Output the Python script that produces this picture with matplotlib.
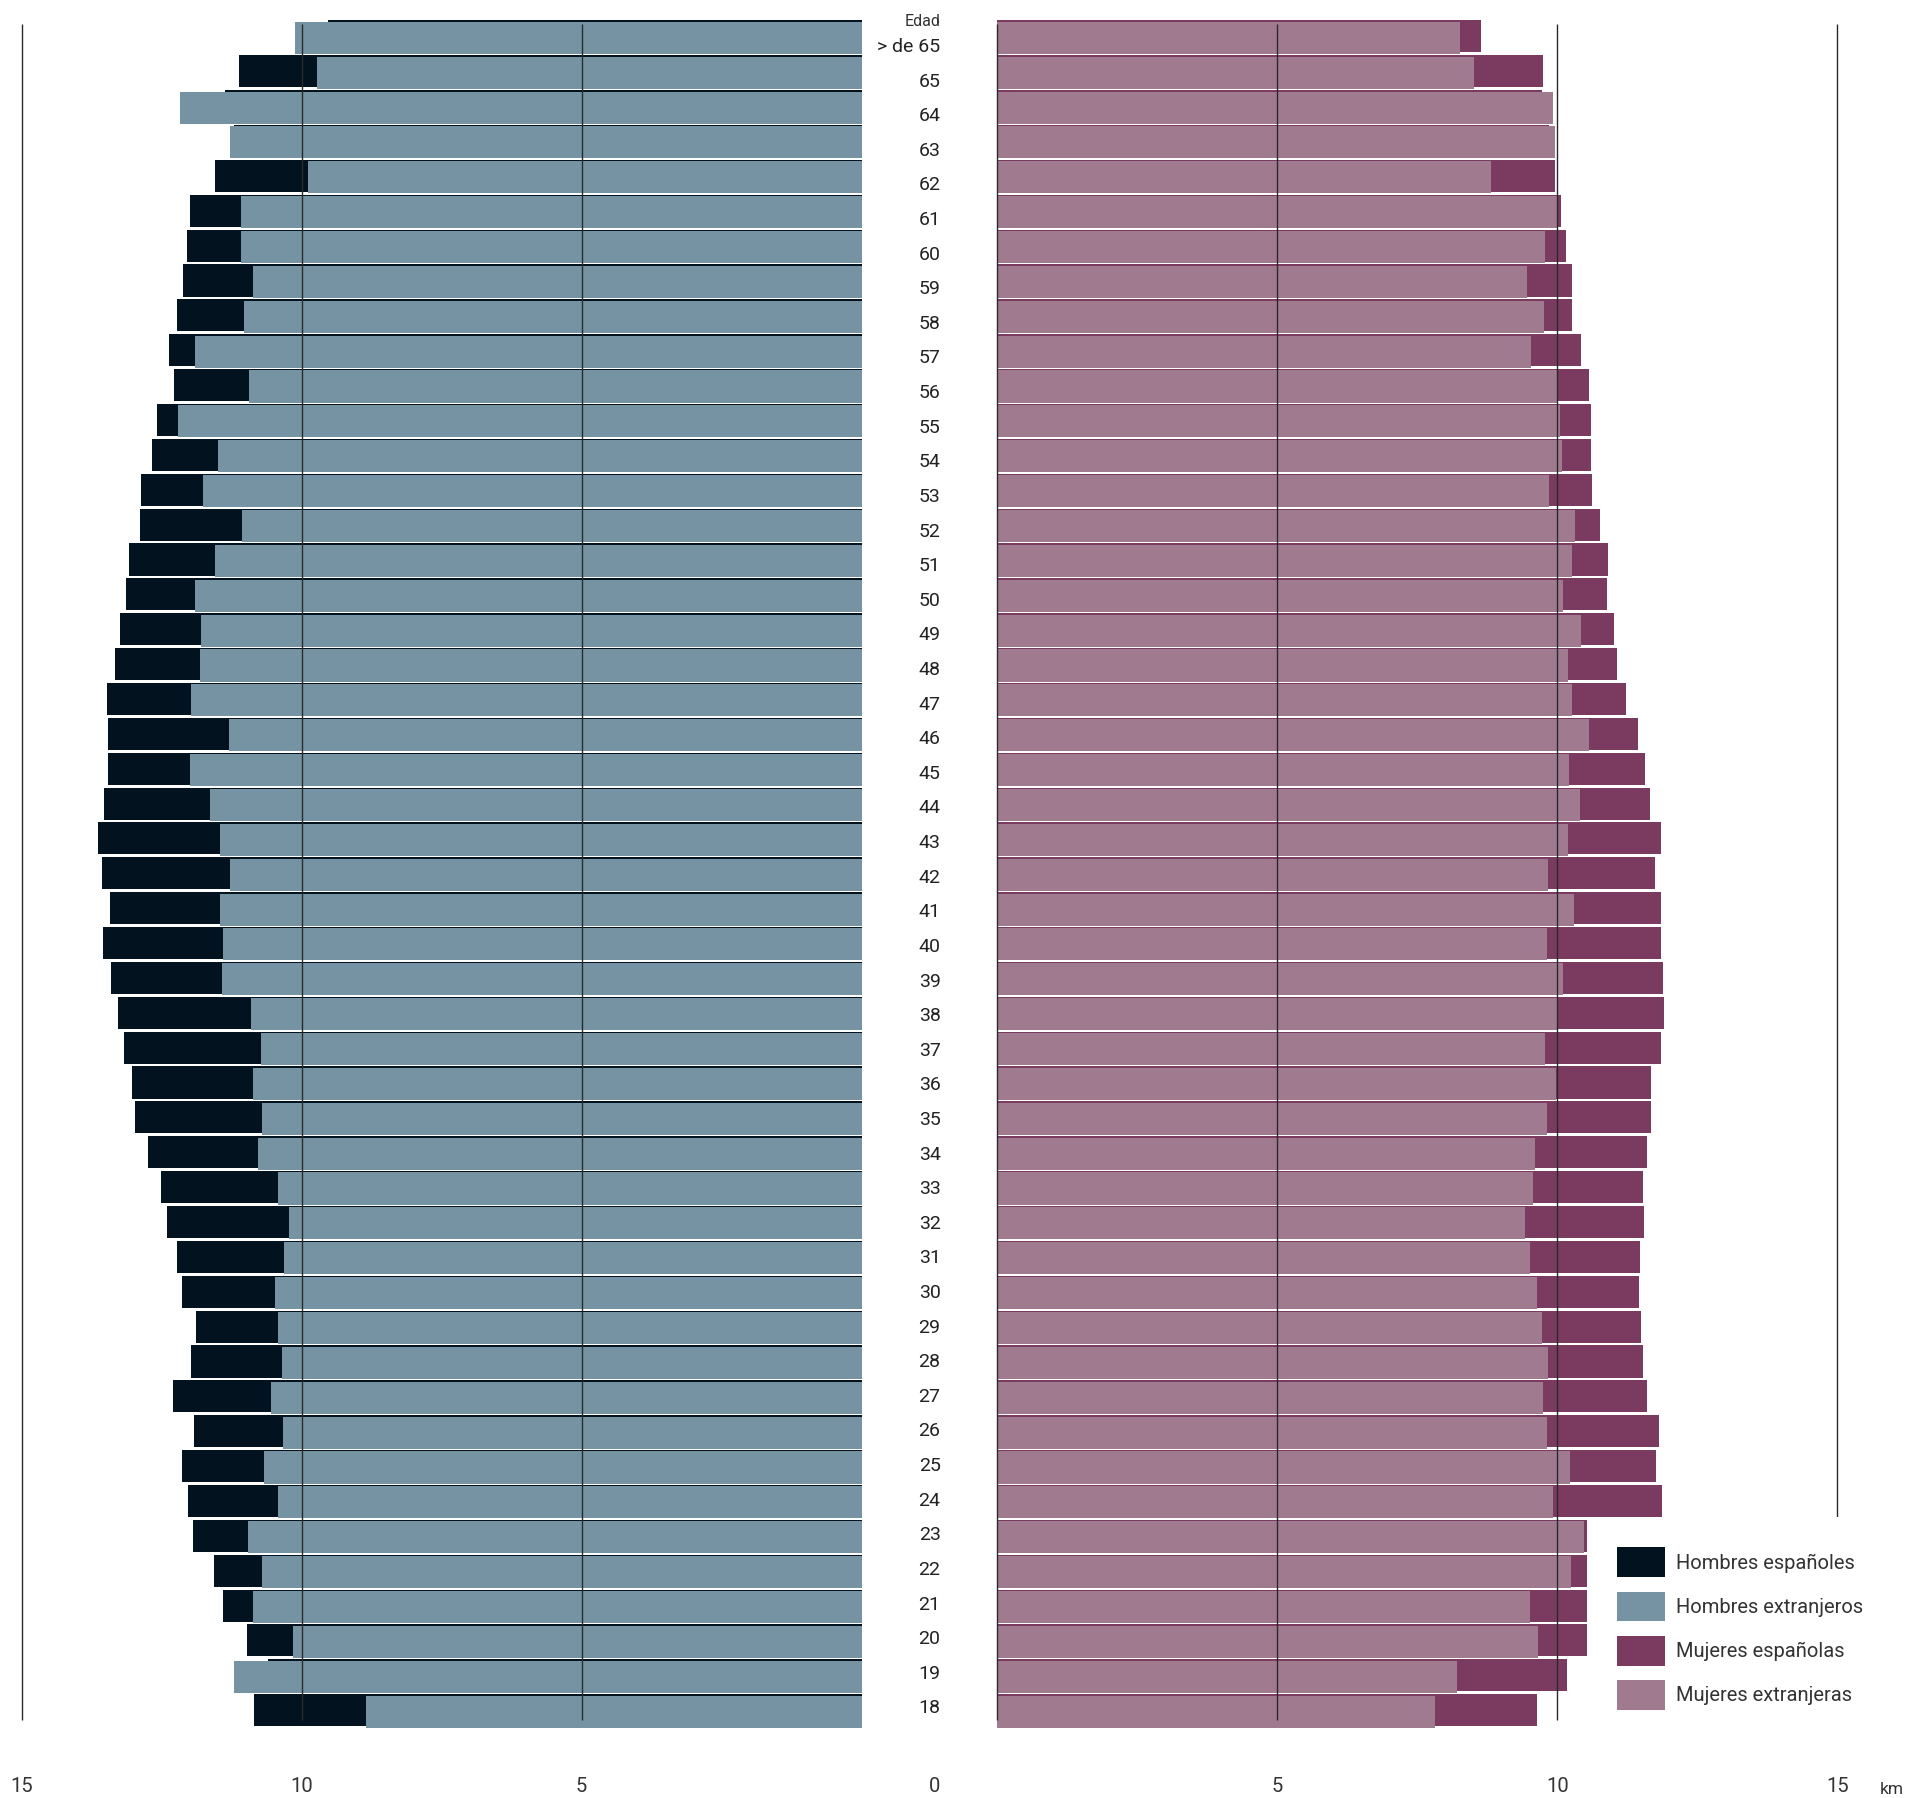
import numpy as np
import matplotlib
matplotlib.use('Agg')
import matplotlib.pyplot as plt
from matplotlib.patches import Patch
from matplotlib.transforms import blended_transform_factory

plt.rcParams['font.family'] = ['Roboto', 'DejaVu Sans']

# age groups, top to bottom
edades = ['> de 65'] + [str(a) for a in range(65, 17, -1)]

# km
hombres_esp = [9.52, 11.11, 11.37, 11.20, 11.55, 11.99, 12.05, 12.11, 12.22, 12.36,
               12.27, 12.58, 12.67, 12.86, 12.88, 13.08, 13.13, 13.24, 13.33, 13.48,
               13.45, 13.46, 13.53, 13.63, 13.57, 13.42, 13.55, 13.40, 13.28, 13.18,
               13.03, 12.98, 12.74, 12.51, 12.40, 12.23, 12.14, 11.89, 11.98, 12.30,
               11.93, 12.13, 12.02, 11.94, 11.56, 11.41, 10.98, 10.60, 10.85]
hombres_ext = [10.11, 9.73, 12.17, 11.27, 9.88, 11.09, 11.08, 10.86, 11.02, 11.90,
               10.94, 12.20, 11.49, 11.76, 11.07, 11.54, 11.90, 11.79, 11.82, 11.97,
               11.29, 11.99, 11.64, 11.46, 11.27, 11.46, 11.41, 11.43, 10.90, 10.73,
               10.86, 10.71, 10.78, 10.43, 10.22, 10.31, 10.48, 10.42, 10.35, 10.55,
               10.33, 10.67, 10.43, 10.95, 10.71, 10.86, 10.15, 11.20, 8.85]
mujeres_esp = [8.64, 9.74, 9.73, 9.85, 9.96, 10.07, 10.15, 10.26, 10.27, 10.42,
               10.57, 10.61, 10.61, 10.62, 10.77, 10.91, 10.88, 11.02, 11.07, 11.23,
               11.44, 11.56, 11.66, 11.86, 11.74, 11.85, 11.85, 11.89, 11.90, 11.85,
               11.68, 11.68, 11.61, 11.53, 11.55, 11.47, 11.45, 11.49, 11.53, 11.60,
               11.82, 11.77, 11.87, 11.60, 11.40, 11.20, 11.00, 10.17, 9.63]
mujeres_ext = [8.27, 8.52, 9.92, 9.96, 8.82, 9.99, 9.78, 9.46, 9.77, 9.53,
               10.00, 10.04, 10.08, 9.86, 10.32, 10.26, 10.11, 10.42, 10.19, 10.26,
               10.57, 10.21, 10.40, 10.19, 9.83, 10.30, 9.81, 10.11, 10.02, 9.78,
               9.98, 9.82, 9.60, 9.57, 9.43, 9.51, 9.64, 9.73, 9.83, 9.74,
               9.81, 10.22, 9.92, 10.48, 10.24, 9.51, 9.65, 8.21, 7.82]

labels = ['Hombres españoles', 'Hombres extranjeros', 'Mujeres españolas', 'Mujeres extranjeras']
colores = ['#02131f', '#7693a3', '#7b3a60', '#a07a8e']
grid_l = [15, 10, 5]
grid_r = [0, 5, 10, 15]
ticks_l = [15, 10, 5]
ticks_r = [5, 10, 15]

W, H = 1913, 1798
fig = plt.figure(figsize=(W / 100, H / 100), dpi=100)
ax_l = fig.add_axes([21.6 / W, 1 - 1729 / H, 840 / W, 1708.6 / H])
ax_r = fig.add_axes([997.3 / W, 1 - 1729 / H, 840 / W, 1708.6 / H])

y = np.arange(len(edades))
h = 0.92
ax_l.barh(y - 0.04, hombres_esp, height=h, color=colores[0], zorder=1)
ax_l.barh(y, hombres_ext, height=h, color=colores[1], zorder=2)
ax_r.barh(y - 0.04, mujeres_esp, height=h, color=colores[2], zorder=1)
ax_r.barh(y, mujeres_ext, height=h, color=colores[3], zorder=2)

ax_l.vlines(grid_l, -0.4, 48.25, color='#2a2a2a', lw=1.0, zorder=3, clip_on=False)
ax_r.vlines(grid_r, -0.4, 48.25, color='#2a2a2a', lw=1.0, zorder=3, clip_on=False)

ax_l.set_xlim(15, 0)
ax_r.set_xlim(0, 15)
for ax in (ax_l, ax_r):
    ax.set_ylim(48.5, -0.5)
    ax.set_xticks([])
    ax.set_yticks([])
    for s in ax.spines.values():
        s.set_visible(False)

# bottom scale, all on one baseline
yb = 1 - 1792 / H
tr_l = blended_transform_factory(ax_l.transData, fig.transFigure)
tr_r = blended_transform_factory(ax_r.transData, fig.transFigure)
for t in ticks_l:
    fig.text(t, yb, str(t), transform=tr_l, ha='center', va='baseline',
             fontsize=14.5, color='#333333')
for t in ticks_r:
    fig.text(t, yb, str(t), transform=tr_r, ha='center', va='baseline',
             fontsize=14.5, color='#333333')
fig.text(934.5 / W, yb, '0', ha='center', va='baseline', fontsize=14.5, color='#333333')
fig.text(1892 / W, yb - 0.001, 'km', ha='center', va='baseline', fontsize=12.5, color='#333333')

# age labels between the two panels
tr = blended_transform_factory(fig.transFigure, ax_l.transData)
for i, e in enumerate(edades):
    fig.text(940.5 / W, 0.26 + 0.9927 * i, e, transform=tr, ha='right', va='center',
             fontsize=14, color='#222222')
fig.text(940.5 / W, -0.47, 'Edad', transform=tr, ha='right', va='center',
         fontsize=11.5, color='#333333')

handles = [Patch(facecolor=c, edgecolor='none') for c in colores]
fig.legend(handles, labels, loc='upper left', bbox_to_anchor=(1587 / W, 1 - 1517 / H),
           borderaxespad=0, frameon=True, facecolor='white', edgecolor='none',
           framealpha=1, fancybox=False, borderpad=1.5, handlelength=2.35,
           handleheight=1.9, handletextpad=0.55, labelspacing=0.72, fontsize=14.5,
           labelcolor='#333333')

fig.savefig('out.png', dpi=100, facecolor='white')
